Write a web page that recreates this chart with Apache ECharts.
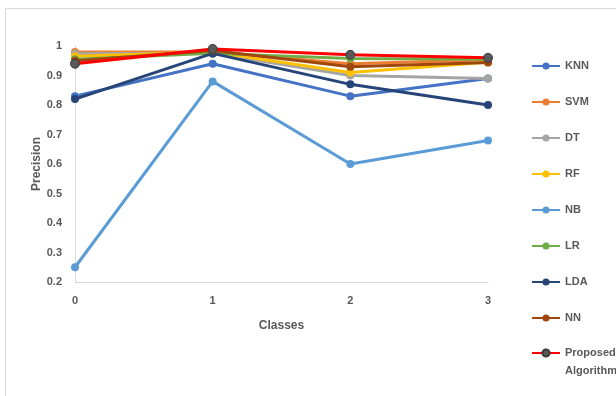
<!DOCTYPE html>
<html><head><meta charset="utf-8">
<script src="https://cdn.jsdelivr.net/npm/echarts@6/dist/echarts.min.js"></script>
<style>html,body{margin:0;padding:0;background:#fff}#c{width:616px;height:396px}</style>
</head><body><div id="c"></div>
<script>
const categories = ['0', '1', '2', '3'];
const seriesNames = ['KNN', 'SVM', 'DT', 'RF', 'NB', 'LR', 'LDA', 'NN', 'Proposed Algorithm'];
const knn = [0.83, 0.94, 0.83, 0.89];
const svm = [0.98, 0.98, 0.94, 0.953];
const dt = [0.975, 0.975, 0.90, 0.89];
const rf = [0.965, 0.98, 0.91, 0.945];
const nb = [0.25, 0.88, 0.60, 0.68];
const lr = [0.955, 0.975, 0.958, 0.955];
const lda = [0.82, 0.975, 0.87, 0.80];
const nn = [0.95, 0.985, 0.93, 0.944];
const proposed = [0.94, 0.99, 0.97, 0.96];
const yTicks = { min: 0.2, max: 1, interval: 0.1 };

const values = [knn, svm, dt, rf, nb, lr, lda, nn, proposed];
const colors = ['#4472C4', '#ED7D31', '#A5A5A5', '#FFC000', '#5B9BD5', '#70AD47', '#264478', '#9E480E', '#FF0000'];
const font = '"Liberation Sans", Arial, sans-serif';
const lastName = seriesNames[seriesNames.length - 1];

const series = seriesNames.map((n, i) => {
  const isProp = n === lastName;
  return {
    name: n, type: 'line', data: values[i],
    symbol: 'circle', symbolSize: isProp ? 9 : 8,
    lineStyle: { color: colors[i], width: 3 },
    itemStyle: isProp ? { color: '#595959', borderColor: '#3a3a3a', borderWidth: 1 } : { color: colors[i] },
    emphasis: { disabled: true },
    animation: false, z: 2 + i
  };
});

const legendBase = {
  orient: 'vertical', left: 531, height: 500, padding: 0, itemWidth: 28, itemHeight: 9, itemGap: 22,
  lineStyle: { width: 2 }, selectedMode: false
};

const chart = echarts.init(document.getElementById('c'));
chart.setOption({
  animation: false,
  graphic: [{ type: 'rect', shape: { x: 5.5, y: 8.5, width: 700, height: 500 }, style: { fill: 'none', stroke: '#d9d9d9', lineWidth: 1 }, silent: true }],
  grid: { left: 75, right: 128, top: 46, bottom: 114 },
  xAxis: {
    type: 'category', data: categories, boundaryGap: false,
    name: 'Classes', nameLocation: 'middle', nameGap: 38, nameMoveOverlap: false,
    nameTextStyle: { fontFamily: font, fontWeight: 'bold', fontSize: 12, color: '#595959' },
    axisLine: { lineStyle: { color: '#d9d9d9' } }, axisTick: { show: false },
    axisLabel: { margin: 13, fontFamily: font, fontWeight: 'bold', fontSize: 11, color: '#595959' }
  },
  yAxis: {
    type: 'value', min: yTicks.min, max: yTicks.max, interval: yTicks.interval,
    name: 'Precision', nameLocation: 'middle', nameGap: 32, nameMoveOverlap: false,
    nameTextStyle: { fontFamily: font, fontWeight: 'bold', fontSize: 12, color: '#595959' },
    axisLine: { show: true, lineStyle: { color: '#d9d9d9' } }, axisTick: { show: false },
    splitLine: { show: false },
    axisLabel: { margin: 13, fontFamily: font, fontWeight: 'bold', fontSize: 11, color: '#595959',
      formatter: v => (Math.round(v * 10) / 10).toString() }
  },
  legend: [
    Object.assign({}, legendBase, {
      top: 59,
      textStyle: { fontFamily: font, fontWeight: 'bold', fontSize: 11, color: '#595959', lineHeight: 14 },
      data: seriesNames.filter(n => n !== lastName)
    }),
    Object.assign({}, legendBase, {
      top: 326,
      formatter: () => ' \nProposed\nAlgorithm',
      textStyle: { fontFamily: font, fontWeight: 'bold', fontSize: 11, color: '#595959', lineHeight: 18 },
      data: [lastName]
    })
  ],
  series
});
</script></body></html>
